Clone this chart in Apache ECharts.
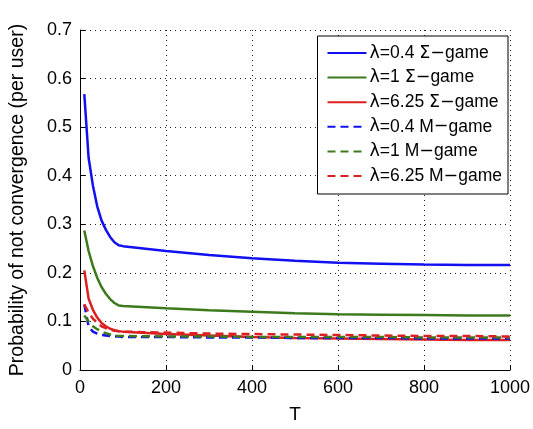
<!DOCTYPE html>
<html>
<head>
<meta charset="utf-8">
<script src="https://cdn.jsdelivr.net/npm/echarts@6/dist/echarts.min.js"></script>
<style>
  html, body { margin: 0; padding: 0; background: #fff; }
  #chart { width: 533px; height: 429px; }
</style>
</head>
<body>
<div id="chart"></div>
<script>
// Horizon length T
const T = [10, 20, 30, 40, 50, 60, 70, 80, 90, 100, 200, 300, 400, 500, 600, 700, 800, 900, 1000];

// Probability of not converging (per user), Σ-game
const sigma04  = [0.568, 0.437, 0.380, 0.337, 0.308, 0.289, 0.274, 0.263, 0.257, 0.255, 0.245, 0.237, 0.230, 0.225, 0.221, 0.219, 0.217, 0.216, 0.216];
const sigma1   = [0.287, 0.245, 0.214, 0.190, 0.171, 0.157, 0.146, 0.138, 0.133, 0.132, 0.127, 0.123, 0.120, 0.117, 0.115, 0.114, 0.113, 0.112, 0.112];
const sigma625 = [0.205, 0.147, 0.124, 0.108, 0.097, 0.090, 0.085, 0.082, 0.080, 0.079, 0.074, 0.071, 0.068, 0.066, 0.065, 0.064, 0.063, 0.062, 0.062];

// Probability of not converging (per user), M-game
const m04  = [0.135, 0.090, 0.079, 0.075, 0.072, 0.071, 0.070, 0.069, 0.069, 0.068, 0.068, 0.067, 0.067, 0.066, 0.066, 0.066, 0.065, 0.065, 0.065];
const m1   = [0.112, 0.100, 0.090, 0.084, 0.079, 0.076, 0.073, 0.071, 0.070, 0.070, 0.069, 0.069, 0.068, 0.068, 0.068, 0.068, 0.067, 0.067, 0.067];
const m625 = [0.135, 0.118, 0.106, 0.097, 0.090, 0.086, 0.083, 0.081, 0.080, 0.079, 0.077, 0.075, 0.074, 0.073, 0.072, 0.071, 0.070, 0.070, 0.069];

const names = ['λ=0.4 Σ−game', 'λ=1 Σ−game', 'λ=6.25 Σ−game', 'λ=0.4 M−game', 'λ=1 M−game', 'λ=6.25 M−game'];
const values = [sigma04, sigma1, sigma625, m04, m1, m625];
const colors = ['#1010f0', '#3c7a1c', '#dc2020', '#1010f0', '#3c7a1c', '#dc2020'];
const dashed = [false, false, false, true, true, true];

const font = 'Liberation Sans, Arial, sans-serif';

const series = names.map((n, i) => ({
  name: n,
  type: 'line',
  symbol: 'none',
  data: T.map((t, k) => [t, values[i][k]]),
  lineStyle: {
    color: colors[i],
    width: 2.5,
    type: dashed[i] ? [8, 5] : 'solid'
  },
  itemStyle: { color: colors[i] },
  z: dashed[i] ? 3 : 2
}));

const chart = echarts.init(document.getElementById('chart'));
chart.setOption({
  animation: false,
  backgroundColor: '#fff',
  grid: { left: 78, right: 20, top: 30, bottom: 57 },
  legend: {
    right: 25, top: 36,
    orient: 'vertical',
    backgroundColor: '#fff',
    borderColor: '#000',
    borderWidth: 1,
    padding: [8, 6, 9, 9],
    itemWidth: 39,
    itemHeight: 14,
    itemGap: 6.6,
    itemStyle: { opacity: 0 },
    formatter: name => name.replace(/([λΣ−])/g, '{g|$1}'),
    textStyle: {
      fontFamily: font, fontSize: 17.5, color: '#000', lineHeight: 18,
      padding: [0, 0, 0, -2],
      rich: { g: { fontFamily: 'DejaVu Sans', fontSize: 17.5, color: '#000', lineHeight: 18 } }
    },
    data: names
  },
  xAxis: {
    type: 'value',
    min: 0, max: 1000, interval: 200,
    name: 'T', nameLocation: 'middle', nameGap: 35,
    nameTextStyle: { fontFamily: font, fontSize: 19, color: '#000' },
    axisLine: { onZero: false, lineStyle: { color: '#000', width: 1 } },
    axisTick: { inside: true, length: 5, lineStyle: { color: '#000' } },
    axisLabel: { fontFamily: font, fontSize: 18, color: '#000', margin: 9, formatter: v => String(v) },
    splitLine: { show: true, lineStyle: { color: '#222', type: [1, 4], width: 1 } }
  },
  yAxis: {
    type: 'value',
    min: 0, max: 0.7, interval: 0.1,
    name: 'Probability of not convergence (per user)', nameLocation: 'middle', nameGap: 52,
    nameTextStyle: { fontFamily: font, fontSize: 19.5, color: '#000' },
    axisLine: { show: true, lineStyle: { color: '#000', width: 1 } },
    axisTick: { show: true, inside: true, length: 5, lineStyle: { color: '#000' } },
    axisLabel: {
      fontFamily: font, fontSize: 18, color: '#000', margin: 8,
      formatter: v => (Math.round(v * 10) / 10).toString()
    },
    splitLine: { show: true, lineStyle: { color: '#222', type: [1, 4], width: 1 } }
  },
  series: series
});
</script>
</body>
</html>
